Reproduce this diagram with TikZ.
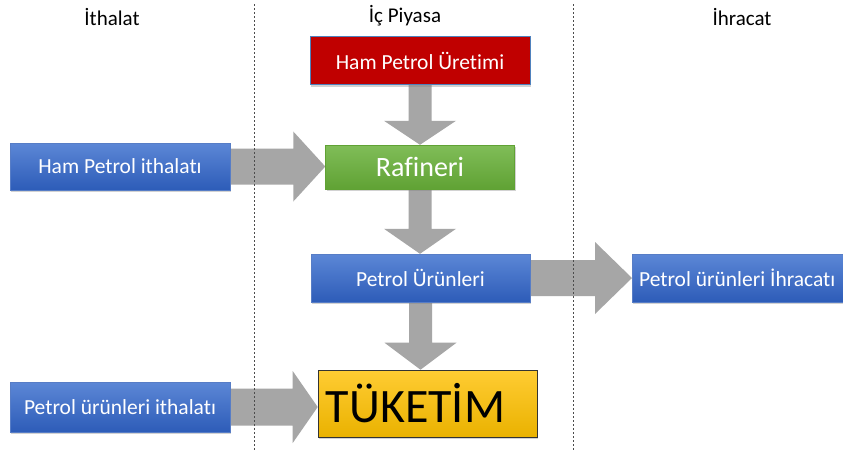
\documentclass[tikz,border=0pt]{standalone}
\usepackage{fontspec}
\setmainfont{Carlito}[Ligatures=NoCommon]
\usetikzlibrary{shadows,calc}
\pgfdeclarelayer{background}
\pgfsetlayers{background,main}
\definecolor{arrowgray}{RGB}{166,166,166}
\definecolor{bluetop}{RGB}{92,135,214}
\definecolor{bluebot}{RGB}{45,92,184}
\definecolor{darkred}{RGB}{192,0,0}
\definecolor{redborder}{RGB}{79,129,189}
\definecolor{greentop}{RGB}{128,189,88}
\definecolor{greenbot}{RGB}{96,162,52}
\definecolor{yeltop}{RGB}{255,204,51}
\definecolor{yelbot}{RGB}{234,178,0}
\tikzset{
  box/.style={rectangle, inner sep=0pt, anchor=center, text=white,
    font=\fontsize{21.5}{23}\selectfont,
    drop shadow={opacity=0.35, shadow xshift=1pt, shadow yshift=-2pt}},
  bluebox/.style={box, top color=bluetop, bottom color=bluebot, draw=bluebot!80!white, line width=0.4pt},
  redbox/.style={box, fill=darkred, draw=redborder, line width=0.8pt},
  greenbox/.style={box, top color=greentop, bottom color=greenbot, draw=greenbot, line width=0.4pt,
    font=\fontsize{28}{30}\selectfont},
  yellowbox/.style={box, top color=yeltop, bottom color=yelbot, draw=black!80, line width=0.6pt,
    text=black, font=\fontsize{48}{50}\selectfont},
  header/.style={font=\fontsize{21}{23}\selectfont, text=black, inner sep=0pt},
  divider/.style={draw=black!70, dash pattern=on 2pt off 2pt, line width=0.5pt},
  blockarrow/.style={fill=arrowgray, draw=none}
}
\begin{document}
\begin{tikzpicture}[x=1pt, y=-1pt]
\clip (0,0) rectangle (843,451);

% nodes
\node[redbox, minimum width=220pt, minimum height=48pt] (uret) at (420,60.5) {Ham Petrol Üretimi};
\node[greenbox, minimum width=189pt, minimum height=44pt] (raf) at (420,167) {Rafineri};
\node[bluebox, minimum width=220pt, minimum height=47pt] (hamith) at (120,166.5) {Ham Petrol ithalatı};
\node[bluebox, minimum width=219pt, minimum height=48pt] (pu) at (420.5,278) {Petrol Ürünleri};
\node[bluebox, minimum width=220pt, minimum height=48pt, anchor=west] (ihr) at (632,278) {\hspace*{-5pt}Petrol ürünleri İhracatı\hspace*{5pt}};
\node[yellowbox, minimum width=219pt, minimum height=67pt] (tuk) at (427.5,403.5) {\hspace*{-12pt}TÜKETİM\hspace*{12pt}};
\node[bluebox, minimum width=220pt, minimum height=50pt] (puith) at (120,407) {Petrol ürünleri ithalatı};

% headers
\node[header] (h1) at (112,17) {İthalat};
\node[header] (h2) at (405,16) {İç Piyasa};
\node[header] (h3) at (742,17) {İhracat};

% dividers
\coordinate (d1t) at (254,4);
\coordinate (d1b) at (254,451);
\coordinate (d2t) at (573,4);
\coordinate (d2b) at (573,451);
\draw[divider] (d1t) -- (d1b);
\draw[divider] (d2t) -- (d2b);

\begin{pgfonlayer}{background}
\fill[white] (0,0) rectangle (843,451);
% down arrows
\path[blockarrow] let \p1=(uret.south), \p2=(raf.north) in
  (\x1-11.5pt,\y1) -- (\x1+11.5pt,\y1) -- (\x1+11.5pt,\y2+24pt) -- (\x1+36pt,\y2+24pt)
  -- (\x1,\y2) -- (\x1-36pt,\y2+24pt) -- (\x1-11.5pt,\y2+24pt) -- cycle;
\path[blockarrow] let \p1=(raf.south), \p2=(pu.north) in
  (\x1-11.5pt,\y1) -- (\x1+11.5pt,\y1) -- (\x1+11.5pt,\y2+25pt) -- (\x1+36pt,\y2+25pt)
  -- (\x1,\y2) -- (\x1-36pt,\y2+25pt) -- (\x1-11.5pt,\y2+25pt) -- cycle;
\path[blockarrow] let \p1=(pu.south), \p2=(tuk.north) in
  (\x1-11.5pt,\y1) -- (\x1+11.5pt,\y1) -- (\x1+11.5pt,\y2+27pt) -- (\x1+36pt,\y2+27pt)
  -- (\x1,\y2) -- (\x1-36pt,\y2+27pt) -- (\x1-11.5pt,\y2+27pt) -- cycle;
% right arrows
\path[blockarrow] let \p1=(hamith.east), \p2=(raf.west) in
  (\x1,\y1+18pt) -- (\x2-32pt,\y1+18pt) -- (\x2-32pt,\y1+35pt) -- (\x2,\y1)
  -- (\x2-32pt,\y1-35pt) -- (\x2-32pt,\y1-18pt) -- (\x1,\y1-18pt) -- cycle;
\path[blockarrow] let \p1=(pu.east), \p2=(ihr.west) in
  (\x1,\y1+18pt) -- (\x2-37pt,\y1+18pt) -- (\x2-37pt,\y1+36pt) -- (\x2,\y1)
  -- (\x2-37pt,\y1-36pt) -- (\x2-37pt,\y1-18pt) -- (\x1,\y1-18pt) -- cycle;
\path[blockarrow] let \p1=(puith.east), \p2=(tuk.west) in
  (\x1,\y1+18.5pt) -- (\x2-25pt,\y1+18.5pt) -- (\x2-25pt,\y1+36pt) -- (\x2,\y1)
  -- (\x2-25pt,\y1-36pt) -- (\x2-25pt,\y1-18.5pt) -- (\x1,\y1-18.5pt) -- cycle;
\end{pgfonlayer}
\end{tikzpicture}
\end{document}
